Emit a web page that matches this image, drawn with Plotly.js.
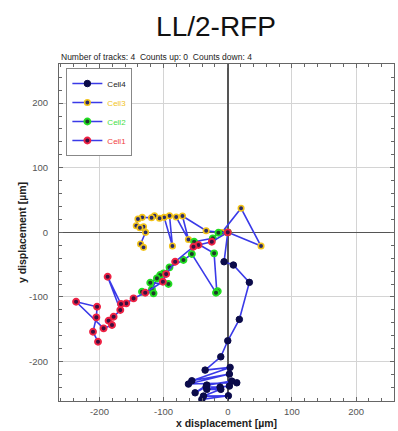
<!DOCTYPE html>
<html>
<head>
<meta charset="utf-8">
<script src="https://cdn.plot.ly/plotly-3.0.1.min.js"></script>
<style>
html,body{margin:0;padding:0;background:#fff;}
#chart{width:398px;height:431px;}
</style>
</head>
<body>
<div id="chart"></div>
<script>
// Track data (x, y displacement in µm)
const cell4X = [0, -5.8, 8.7, 33.6, 18.0, 0, -10.9, -35.3, 3.6, -56, 2.5, -61.3, 14, 6.2, -32.7, -50.9, -33.7, -12, 2.5, -32.7, -10.9, -37.9, 0.9, -40.4];
const cell4Y = [0, -45.5, -50.6, -77.4, -134.7, -167.8, -192.6, -213.2, -209, -229.7, -219.3, -234.8, -232.8, -230.2, -236.4, -248.3, -239, -239.5, -237.9, -243, -243, -253.4, -252.9, -258.5];

const cell3X = [0, 51.8, 20.7, -9.3, -33.7, -70.6, -61.3, -80.4, -90.8, -86.2, -99.1, -106.4, -114.2, -118.8, -133.3, -140, -142.6, -131.3, -136.9, -128.1, -135.9, -131.3];
const cell3Y = [0, -21.2, 37.2, -0.3, 2.5, 25.2, -11.1, 23.7, 25.7, -21.2, 23.2, 21.7, 25.7, 22.6, 23.2, 20.6, 10.2, 8.7, 7.1, 0, -18.1, -23.2];

const cell2X = [0, -14.6, -23.3, -52.4, -21.3, -17.1, -15.6, -18.4, -56, -69.1, -90.8, -100.2, -105.3, -92.4, -120.8, -110.4, -118.2, -115.7, -133.7];
const cell2Y = [0, -0.6, -9.3, -14.6, -32.5, -92, -91.2, -93.4, -33.6, -42.9, -54.2, -63.5, -66.1, -80, -78, -71.2, -88.2, -94.4, -92];

const cell1X = [0, -24.9, -45.7, -53.5, -82, -96, -101.1, -128.6, -146.8, -158.2, -166.4, -187.2, -167.5, -177.9, -185.7, -180.4, -193.5, -236.4, -203.7, -204.8, -210, -202.2];
const cell1Y = [0, -14.6, -19.7, -22.3, -45.5, -64.6, -76.5, -93.5, -102.2, -109.9, -111, -68.7, -120.3, -130.7, -136.8, -143.5, -148.6, -107.4, -115.2, -131.6, -153.9, -169.3];

const tickVals = [-200, -100, 0, 100, 200];
const tickText = ['-200', '-100', '0', '100', '200'];

const lineCol = '#3a3ae8';
function tr(name, xs, ys, fill, edge, size, ew) {
  return {
    type: 'scatter', mode: 'lines+markers', name: name, x: xs, y: ys,
    line: {color: lineCol, width: 1.6},
    marker: {color: fill, size: size, line: {color: edge, width: ew}},
    hoverinfo: 'skip'
  };
}

const traces = [
  tr('Cell4', cell4X, cell4Y, '#0b0b4a', '#0b0b4a', 6.5, 1),
  tr('<span style="color:#f2c31a">Cell3</span>', cell3X, cell3Y, '#2b2b66', '#f2c31a', 5.5, 1.6),
  tr('<span style="color:#46e046">Cell2</span>', cell2X, cell2Y, '#1d3a2a', '#22dd22', 6, 1.9),
  tr('<span style="color:#f04040">Cell1</span>', cell1X, cell1Y, '#3a1040', '#ee2244', 6, 1.9)
];

const axisCommon = {
  tickmode: 'array', tickvals: tickVals, ticktext: tickText,
  showgrid: true, gridcolor: '#d4d4d4', gridwidth: 1,
  zeroline: true, zerolinecolor: '#555', zerolinewidth: 1.5,
  showline: true, linecolor: '#666', linewidth: 1, mirror: 'ticks',
  ticks: 'inside', ticklen: 4, tickcolor: '#666',
  minor: {dtick: 20, ticks: 'inside', ticklen: 3, tickcolor: '#666', showgrid: false},
  tickfont: {family: 'Liberation Sans, Arial, sans-serif', size: 9.5, color: '#555'},
  fixedrange: true
};

const layout = {
  width: 398, height: 431,
  margin: {l: 59, r: 4, t: 64, b: 30},
  paper_bgcolor: '#fff', plot_bgcolor: '#fff',
  showlegend: true,
  title: {
    text: 'LL/2-RFP',
    font: {family: 'Liberation Sans, Arial, sans-serif', size: 28, color: '#111'},
    x: 216 / 398, xanchor: 'center', xref: 'container',
    y: 1 - 26 / 431, yanchor: 'middle', yref: 'container'
  },
  xaxis: Object.assign({}, axisCommon, {
    range: [-263, 259],
    ticklabelstandoff: 2,
    title: {text: 'x displacement [µm]', standoff: 2,
      font: {family: 'Liberation Sans, Arial, sans-serif', size: 10.5, color: '#222', weight: 'bold'}}
  }),
  yaxis: Object.assign({}, axisCommon, {
    range: [-261, 260.5],
    ticklabelstandoff: 8,
    title: {text: 'y displacement [µm]', standoff: 0,
      font: {family: 'Liberation Sans, Arial, sans-serif', size: 10.5, color: '#222', weight: 'bold'}}
  }),
  legend: {
    x: 0.022, y: 0.988, xanchor: 'left', yanchor: 'top',
    bgcolor: '#fff', bordercolor: '#888', borderwidth: 1,
    font: {family: 'Liberation Sans, Arial, sans-serif', size: 8, color: '#222'},
    tracegroupgap: 0, itemwidth: 30
  },
  annotations: [{
    text: 'Number of tracks: 4  Counts up: 0  Counts down: 4',
    xref: 'paper', yref: 'paper', x: 0, y: 1, xanchor: 'left', yanchor: 'bottom',
    yshift: 0, showarrow: false,
    font: {family: 'Liberation Sans, Arial, sans-serif', size: 8.5, color: '#222'}
  }]
};

Plotly.newPlot('chart', traces, layout, {displayModeBar: false, staticPlot: true});
</script>
</body>
</html>
